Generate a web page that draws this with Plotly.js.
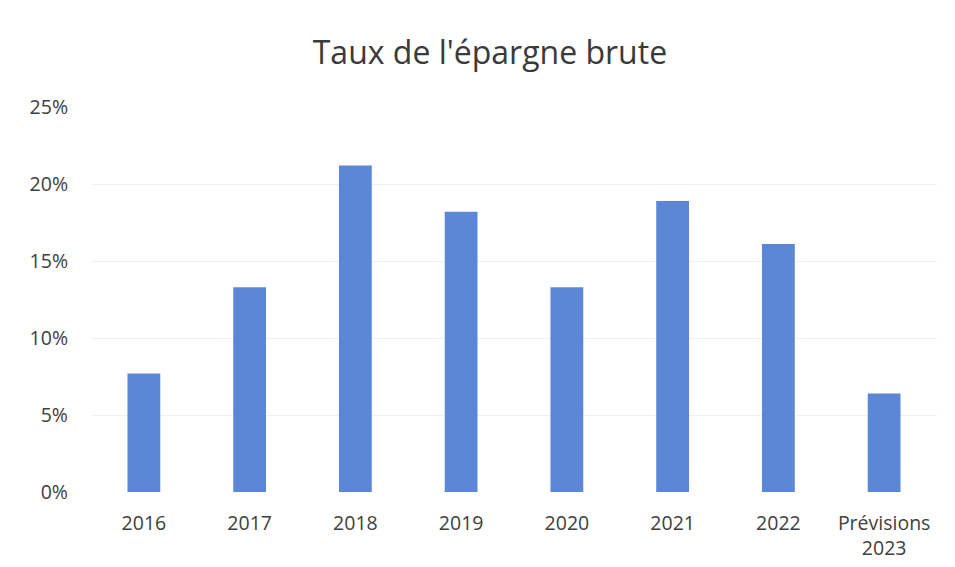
<!DOCTYPE html>
<html>
<head>
<meta charset="utf-8">
<script src="https://cdn.plot.ly/plotly-3.0.1.min.js"></script>
<style>html,body{margin:0;padding:0;background:#fff;}#chart{width:955px;height:567px;}</style>
</head>
<body>
<div id="chart"></div>
<script>
const categories = ["2016", "2017", "2018", "2019", "2020", "2021", "2022", "Prévisions<br>2023"];
const tauxEpargne = [0.077, 0.133, 0.212, 0.182, 0.133, 0.189, 0.161, 0.064];
const yTickValues = [0, 0.05, 0.10, 0.15, 0.20, 0.25];
const yTickLabels = ["0%", "5%", "10%", "15%", "20%", "25%"];
const chartTitle = "Taux de l'épargne brute";

const trace = {
  type: "bar",
  x: categories,
  y: tauxEpargne,
  marker: { color: "#5b87d6" },
  width: 0.31,
  hoverinfo: "x+y"
};

const layout = {
  width: 955,
  height: 567,
  margin: { l: 91, r: 18, t: 107, b: 75 },
  paper_bgcolor: "#ffffff",
  plot_bgcolor: "#ffffff",
  font: { family: "Open Sans, sans-serif", color: "#404040" },
  title: {
    text: chartTitle,
    font: { family: "Open Sans, sans-serif", size: 32, color: "#3a3a3a" },
    xref: "container", x: 0.513, xanchor: "center",
    yref: "container", y: 0.906, yanchor: "middle"
  },
  xaxis: {
    type: "category",
    showgrid: false,
    showline: false,
    ticks: "",
    tickfont: { size: 19.5, color: "#404040" },
    ticklabelstandoff: 17
  },
  yaxis: {
    range: [0, 0.25],
    tickvals: yTickValues,
    ticktext: yTickLabels,
    showgrid: true,
    gridcolor: "#f0f0f0",
    gridwidth: 1,
    zeroline: false,
    showline: false,
    ticks: "",
    tickfont: { size: 19.5, color: "#404040" },
    ticklabelstandoff: 22
  },
  showlegend: false
};

Plotly.newPlot("chart", [trace], layout, { displayModeBar: false, staticPlot: true });
</script>
</body>
</html>
